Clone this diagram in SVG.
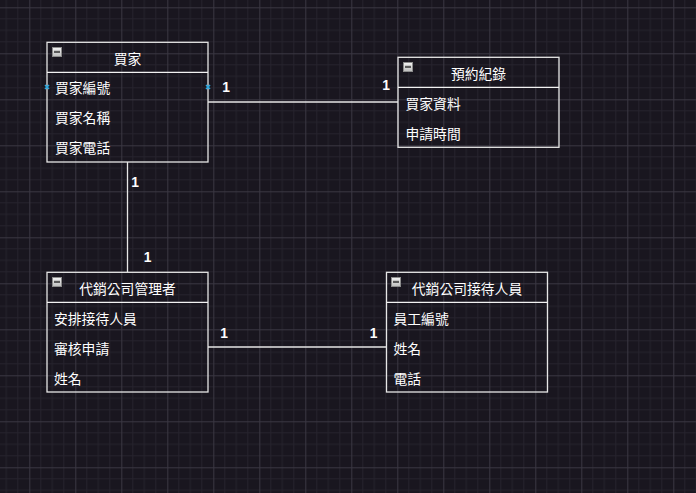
<svg xmlns="http://www.w3.org/2000/svg" width="696" height="493" viewBox="0 0 696 493">
<style>
.bg{fill:#19161f}
.minor{stroke:#26232d;stroke-width:1}
.major{stroke:#3a3742;stroke-width:1}
.box{fill:none;stroke:#e6e6e6;stroke-width:1.3}
.sep{stroke:#f2f2f2;stroke-width:1.3}
.title{font-family:"Liberation Sans","Noto Sans CJK TC",sans-serif;font-size:13.8px;fill:#ffffff;text-anchor:middle}
.row{font-family:"Liberation Sans","Noto Sans CJK TC",sans-serif;font-size:13.8px;fill:#ffffff}
.lbl{font-family:"Liberation Sans","Noto Sans CJK TC",sans-serif;font-size:13.8px;fill:#ffffff;font-weight:bold;text-anchor:middle}
.edge{stroke:#e6e6e6;stroke-width:1.3;fill:none}
.icon{fill:url(#ig);stroke:#8c8c8c;stroke-width:1}
.bar{fill:#5a5a5a}
.pt{stroke:#29a8e0;stroke-width:1.6;fill:none}
</style>
<defs>
<linearGradient id="ig" x1="0" y1="0" x2="0" y2="1">
<stop offset="0" stop-color="#f4f4f4"/>
<stop offset="1" stop-color="#bdbdbd"/>
</linearGradient>
<pattern id="grid" patternUnits="userSpaceOnUse" x="29.3" y="7.3" width="46" height="46">
<line class="minor" x1="11.5" y1="0" x2="11.5" y2="46"/>
<line class="minor" x1="23" y1="0" x2="23" y2="46"/>
<line class="minor" x1="34.5" y1="0" x2="34.5" y2="46"/>
<line class="minor" x1="0" y1="11.5" x2="46" y2="11.5"/>
<line class="minor" x1="0" y1="23" x2="46" y2="23"/>
<line class="minor" x1="0" y1="34.5" x2="46" y2="34.5"/>
<line class="major" x1="0.5" y1="0" x2="0.5" y2="46"/>
<line class="major" x1="0" y1="0.5" x2="46" y2="0.5"/>
</pattern>
</defs>
<rect class="bg" x="0" y="0" width="696" height="493"/>
<rect x="0" y="0" width="696" height="493" fill="url(#grid)"/>

<g id="connectors">
<path class="edge" d="M208 102 H398"/>
<text class="lbl" x="226" y="92">1</text>
<text class="lbl" x="386" y="90">1</text>
<path class="edge" d="M127.5 162 V272"/>
<text class="lbl" x="135" y="187">1</text>
<text class="lbl" x="147.5" y="262">1</text>
<path class="edge" d="M208 347 H387"/>
<text class="lbl" x="224" y="338">1</text>
<text class="lbl" x="373.5" y="338">1</text>
</g>

<g id="node-buyer">
<rect class="box" x="47" y="42.3" width="161" height="119.7"/>
<line class="sep" x1="47" y1="72.3" x2="208" y2="72.3"/>
<rect class="icon" x="52.5" y="47.5" width="9" height="9"/>
<rect class="bar" x="54" y="50.8" width="6" height="2.2"/>
<text class="title" x="127.5" y="64">買家</text>
<text class="row" x="55" y="93">買家編號</text>
<text class="row" x="55" y="123">買家名稱</text>
<text class="row" x="55" y="153">買家電話</text>
<path class="pt" d="M45 85 L49 89 M49 85 L45 89"/>
<path class="pt" d="M206 85 L210 89 M210 85 L206 89"/>
</g>

<g id="node-reservation">
<rect class="box" x="398" y="57.3" width="161" height="90"/>
<line class="sep" x1="398" y1="87.3" x2="559" y2="87.3"/>
<rect class="icon" x="403.5" y="62.5" width="9" height="9"/>
<rect class="bar" x="405" y="65.8" width="6" height="2.2"/>
<text class="title" x="478.5" y="79">預約紀錄</text>
<text class="row" x="405.5" y="108.5">買家資料</text>
<text class="row" x="405.5" y="138.5">申請時間</text>
</g>

<g id="node-manager">
<rect class="box" x="47" y="272.3" width="161" height="119.7"/>
<line class="sep" x1="47" y1="302.3" x2="208" y2="302.3"/>
<rect class="icon" x="52.5" y="277.5" width="9" height="9"/>
<rect class="bar" x="54" y="280.8" width="6" height="2.2"/>
<text class="title" x="127.5" y="294">代銷公司管理者</text>
<text class="row" x="54" y="323.5">安排接待人員</text>
<text class="row" x="54" y="353.5">審核申請</text>
<text class="row" x="54" y="384">姓名</text>
</g>

<g id="node-receptionist">
<rect class="box" x="386.5" y="272.3" width="161" height="119.7"/>
<line class="sep" x1="386.5" y1="302.3" x2="547.5" y2="302.3"/>
<rect class="icon" x="391.5" y="277.5" width="9" height="9"/>
<rect class="bar" x="393" y="280.8" width="6" height="2.2"/>
<text class="title" x="467" y="294">代銷公司接待人員</text>
<text class="row" x="393.5" y="323.5">員工編號</text>
<text class="row" x="393.5" y="353.5">姓名</text>
<text class="row" x="393.5" y="384">電話</text>
</g>
</svg>
